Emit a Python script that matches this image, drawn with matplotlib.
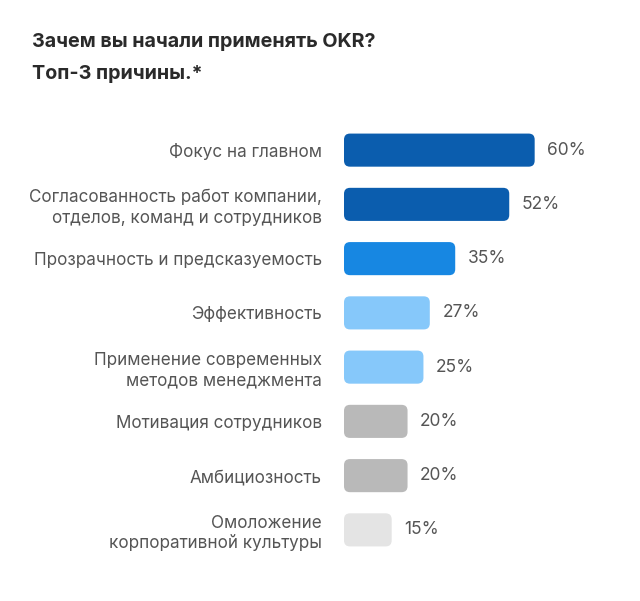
import matplotlib
matplotlib.use("Agg")
import matplotlib.pyplot as plt
from matplotlib.patches import FancyBboxPatch

plt.rcParams['font.family'] = ['Inter', 'DejaVu Sans']

# данные
labels = [
    "Фокус на главном",
    "Согласованность работ компании,\nотделов, команд и сотрудников",
    "Прозрачность и предсказуемость",
    "Эффективность",
    "Применение современных\nметодов менеджмента",
    "Мотивация сотрудников",
    "Амбициозность",
    "Омоложение\nкорпоративной культуры",
]
values = [60, 52, 35, 27, 25, 20, 20, 15]
colors = ["#0B5DAE", "#0B5DAE", "#1787E2", "#86C8FA", "#86C8FA",
          "#B9B9B9", "#B9B9B9", "#E4E4E4"]

W, H = 640, 601
fig = plt.figure(figsize=(W / 100, H / 100), dpi=100)

# оси в пикселях
left, right, top, bottom = 344, 630, 123, 557
ax = fig.add_axes([left / W, 1 - bottom / H, (right - left) / W, (bottom - top) / H])
xmax = 90
ax.set_xlim(0, xmax)
ax.set_ylim(len(values) - 0.5, -0.5)

sx = (right - left) / xmax          # px на 1%
sy = (bottom - top) / len(values)   # px на 1 категорию
r = 6  # радиус скругления, px

bars = ax.barh(range(len(values)), values, height=0.61, color=colors)
for b in bars:
    b.set_visible(False)
    p = FancyBboxPatch((b.get_x(), b.get_y()), b.get_width(), b.get_height(),
                       boxstyle="round,pad=0,rounding_size=%f" % (r / sx),
                       mutation_aspect=sx / sy,
                       fc=b.get_facecolor(), ec="none")
    ax.add_patch(p)
    ax.annotate("%d%%" % b.get_width(), (b.get_width(), b.get_y() + b.get_height() / 2),
                xytext=(9, 0), textcoords="offset points", va="center", ha="left",
                fontsize=12.5, color="#555555")

ax.set_yticks(range(len(values)))
ax.set_yticklabels(labels, fontsize=12.3, color="#555555", linespacing=1.25)
ax.tick_params(axis="y", length=0, pad=16)
ax.set_xticks([])
for s in ax.spines.values():
    s.set_visible(False)

fig.text(32 / W, 1 - 33 / H, "Зачем вы начали применять OKR?\nТоп-3 причины.*",
         fontsize=14.2, fontweight="bold", color="#2a2a2a", va="top", ha="left",
         linespacing=2.0)

fig.savefig("out.png", dpi=100, facecolor="white")
